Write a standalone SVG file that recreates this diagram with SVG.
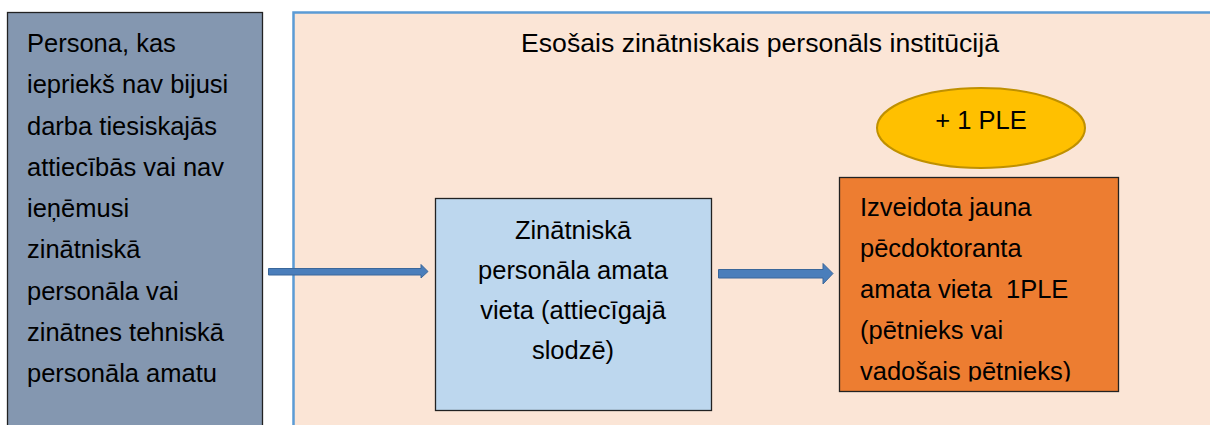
<svg xmlns="http://www.w3.org/2000/svg" width="1210" height="425" viewBox="0 0 1210 425">
<style>
text{font-family:"Liberation Sans",Arial,sans-serif;fill:#000;font-size:25.5px}
.box{stroke:#222;stroke-width:1.3}
.arrow{fill:#4A7EBB;stroke:#3A679A;stroke-width:1}
</style>
<defs>
<clipPath id="clipOrange"><rect x="839" y="177" width="280" height="204.5"/></clipPath>
</defs>
<rect width="1210" height="425" fill="#fff"/>
<g id="container">
<rect x="293.5" y="12.5" width="930" height="430" fill="#FBE5D6" stroke="#5B9BD5" stroke-width="2.5"/>
<text x="760" y="52" text-anchor="middle" font-size="25" textLength="478" lengthAdjust="spacingAndGlyphs">Esošais zinātniskais personāls institūcijā</text>
</g>
<g id="person">
<rect class="box" x="7.5" y="12.5" width="255" height="430" fill="#8497B0"/>
<text x="27" y="52">Persona, kas</text>
<text x="27" y="93.3">iepriekš nav bijusi</text>
<text x="27" y="134.5">darba tiesiskajās</text>
<text x="27" y="175.8">attiecībās vai nav</text>
<text x="27" y="217">ieņēmusi</text>
<text x="27" y="258.3">zinātniskā</text>
<text x="27" y="299.5">personāla vai</text>
<text x="27" y="340.8">zinātnes tehniskā</text>
<text x="27" y="382">personāla amatu</text>
</g>
<g id="position">
<rect class="box" x="435.5" y="198.5" width="276" height="212" fill="#BDD7EE"/>
<text x="573" y="239" text-anchor="middle">Zinātniskā</text>
<text x="573" y="279" text-anchor="middle">personāla amata</text>
<text x="573" y="319" text-anchor="middle">vieta (attiecīgajā</text>
<text x="573" y="359" text-anchor="middle">slodzē)</text>
</g>
<g id="ple">
<ellipse cx="981" cy="128" rx="104" ry="40" fill="#FFC000" stroke="#BF9000" stroke-width="2"/>
<text x="981" y="129" text-anchor="middle" font-size="23.5">+ 1 PLE</text>
</g>
<g id="newpost">
<rect class="box" x="839.5" y="177.5" width="279" height="214" fill="#ED7D31"/>
<g clip-path="url(#clipOrange)">
<text x="860" y="216">Izveidota jauna</text>
<text x="860" y="257">pēcdoktoranta</text>
<text x="860" y="298" xml:space="preserve">amata vieta  1PLE</text>
<text x="860" y="339">(pētnieks vai</text>
<text x="860" y="380">vadošais pētnieks)</text>
</g>
</g>
<g id="connectors">
<polygon class="arrow" points="268.5,268.5 421,268.5 421,264.5 428,271.5 421,278 421,275 268.5,275"/>
<polygon class="arrow" points="718.5,269.5 823,269.5 823,263.5 833,273.5 823,284 823,278 718.5,278"/>
</g>
</svg>
